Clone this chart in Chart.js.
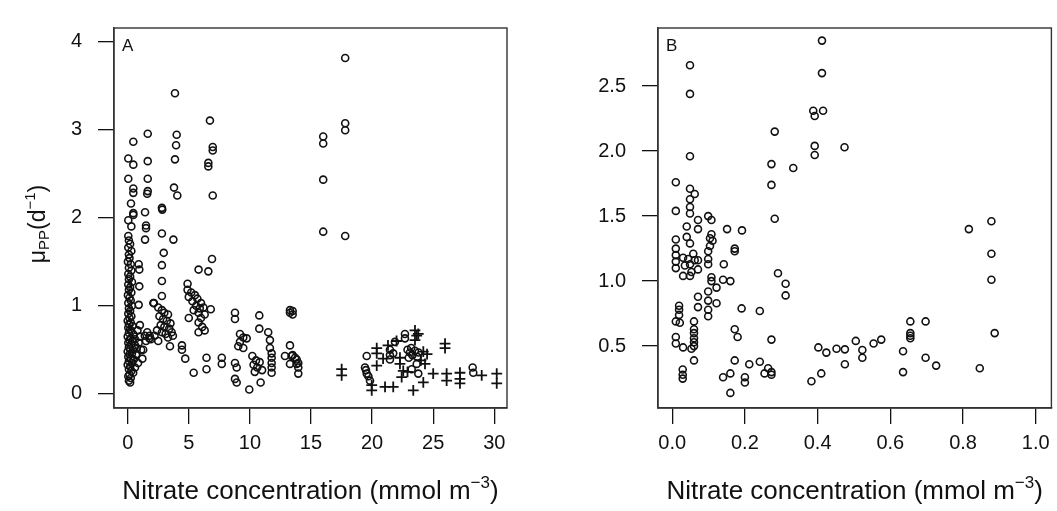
<!DOCTYPE html>
<html>
<head>
<meta charset="utf-8">
<title>Nitrate vs growth rate</title>
<script src="https://cdn.jsdelivr.net/npm/chart.js@4/dist/chart.umd.min.js"></script>
<style>
  html, body { margin: 0; padding: 0; background: #fff; }
  #wrap { position: relative; width: 1057px; height: 511px; }
  .panel { position: absolute; top: 0; height: 511px; }
  #pa { left: 0; width: 530px; }
  #pb { left: 530px; width: 527px; }
</style>
</head>
<body>
<div id="wrap">
  <div class="panel" id="pa"><canvas id="chartA"></canvas></div>
  <div class="panel" id="pb"><canvas id="chartB"></canvas></div>
</div>
<script>
"use strict";

const FONT = "'Liberation Sans', Arial, Helvetica, sans-serif";
const INK = "#111";

// ---- Panel A data ----------------------------------------------------
const aXTicks = [0, 5, 10, 15, 20, 25, 30];
const aYTicks = [0, 1, 2, 3, 4];

const aCircles = [
  // high values
  [17.8, 3.81], [17.8, 3.07], [17.8, 2.99], [16.0, 2.92], [16.0, 2.84], [16.0, 2.43], [16.0, 1.84], [17.8, 1.79],
  [3.87, 3.41], [6.73, 3.10], [1.64, 2.95], [0.46, 2.86], [4.01, 2.94], [3.96, 2.82], [6.96, 2.80], [6.96, 2.76],
  [0.05, 2.67], [0.46, 2.60], [1.64, 2.64], [3.87, 2.66], [6.6, 2.62], [6.6, 2.58], [0.05, 2.44], [1.64, 2.44],
  [0.46, 2.33], [0.46, 2.28], [1.64, 2.30], [1.6, 2.27], [3.79, 2.34], [4.06, 2.25], [6.96, 2.25], [0.27, 2.16],
  [0.46, 2.05], [1.42, 2.06], [2.8, 2.11], [2.83, 2.09], [0.05, 1.97], [0.46, 2.03], [0.3, 1.90], [1.5, 1.91],
  [1.5, 1.88], [1.42, 1.75], [2.8, 1.82], [3.74, 1.75], [0.9, 1.47], [0.95, 1.41], [0.95, 1.22], [0.9, 1.01],
  [2.95, 1.60], [2.8, 1.46], [2.8, 1.28], [2.8, 1.11], [2.15, 1.03], [5.8, 1.41], [6.6, 1.39], [6.9, 1.53],
  [6.8, 0.96], [1.4, 0.66], [1.77, 0.63], [3.46, 0.54], [4.44, 0.55], [4.44, 0.50], [4.71, 0.40], [6.45, 0.41],
  [6.45, 0.28], [5.4, 0.24], [1.27, 0.50], [7.7, 0.41], [7.7, 0.34],
  // dense column near zero nitrate
  [0.05, 1.79], [0.1, 1.74], [0.2, 1.70], [0.05, 1.66], [0.3, 1.62], [0.1, 1.58], [0.15, 1.54], [0.02, 1.50],
  [0.25, 1.47], [0.1, 1.43], [0.3, 1.40], [0.05, 1.36], [0.2, 1.33], [0.1, 1.30], [0.35, 1.27], [0.05, 1.24],
  [0.2, 1.21], [0.1, 1.18], [0.3, 1.15], [0.02, 1.12], [0.15, 1.09], [0.25, 1.06], [0.05, 1.03], [0.35, 1.00],
  [0.1, 0.97], [0.2, 0.94], [0.05, 0.91], [0.3, 0.88], [0.15, 0.86], [0.0, 0.83], [0.25, 0.81], [0.1, 0.79],
  [0.4, 0.77], [0.05, 0.75], [0.2, 0.73], [0.3, 0.71], [0.1, 0.69], [0.5, 0.67], [0.0, 0.65], [0.25, 0.63],
  [0.15, 0.61], [0.4, 0.60], [0.05, 0.58], [0.3, 0.56], [0.6, 0.55], [0.1, 0.53], [0.2, 0.51], [0.45, 0.50],
  [0.0, 0.48], [0.35, 0.46], [0.15, 0.45], [0.7, 0.44], [0.05, 0.42], [0.25, 0.40], [0.5, 0.39], [0.1, 0.37],
  [0.35, 0.35], [0.0, 0.33], [0.2, 0.31], [0.6, 0.30], [0.1, 0.28], [0.3, 0.26], [0.45, 0.24], [0.15, 0.22],
  [0.05, 0.20], [0.25, 0.18], [0.1, 0.15], [0.2, 0.13],
  [0.8, 0.72], [1.0, 0.65], [0.9, 0.58], [1.1, 0.50], [0.7, 0.45], [1.2, 0.40], [0.85, 0.35], [0.6, 0.62],
  [1.0, 0.78], [0.75, 0.52],
  // cluster 1.5 - 3.7
  [2.1, 1.03], [2.5, 0.98], [2.8, 0.95], [3.0, 0.92], [3.3, 0.90], [2.6, 0.88], [2.9, 0.85], [3.2, 0.83],
  [3.5, 0.80], [2.7, 0.78], [3.0, 0.76], [3.4, 0.74], [2.4, 0.72], [2.8, 0.70], [3.1, 0.68], [3.6, 0.70],
  [2.2, 0.66], [1.6, 0.70], [1.8, 0.66], [1.9, 0.62], [1.5, 0.60], [3.3, 0.64], [3.7, 0.66], [2.5, 0.60],
  // cluster 5 - 6.5
  [4.9, 1.25], [4.9, 1.18], [5.2, 1.15], [5.5, 1.12], [5.0, 1.10], [5.7, 1.08], [5.3, 1.05], [6.0, 1.03],
  [5.6, 1.00], [5.9, 0.97], [6.2, 0.98], [5.4, 0.95], [5.8, 0.92], [6.3, 0.90], [5.0, 0.86], [6.0, 0.86],
  [5.8, 0.81], [6.1, 0.76], [5.8, 0.70], [6.3, 0.72],
  // 8 - 14
  [8.78, 0.92], [8.78, 0.85], [10.77, 0.89], [9.19, 0.68], [9.46, 0.64], [9.74, 0.63], [9.19, 0.59], [9.05, 0.54],
  [9.46, 0.52], [10.77, 0.74], [11.5, 0.70], [11.64, 0.61], [11.64, 0.52], [10.2, 0.43], [10.5, 0.38], [10.3, 0.33],
  [10.8, 0.36], [10.6, 0.30], [11.0, 0.27], [10.4, 0.25], [8.78, 0.35], [8.92, 0.30], [8.78, 0.17], [8.92, 0.13],
  [9.95, 0.05], [10.88, 0.13], [11.78, 0.46], [11.78, 0.41], [11.78, 0.35], [11.78, 0.30], [11.78, 0.24],
  [13.28, 0.95], [13.28, 0.92], [13.5, 0.94], [13.5, 0.90], [13.28, 0.55], [12.87, 0.43], [13.42, 0.43],
  [13.28, 0.34], [13.83, 0.39], [13.83, 0.34], [13.7, 0.41], [13.96, 0.35], [13.96, 0.30], [13.96, 0.23], [13.5, 0.44],
  // 19 - 29
  [19.56, 0.43], [19.42, 0.30], [19.5, 0.27], [19.56, 0.23], [19.7, 0.20], [19.83, 0.15], [21.46, 0.50],
  [21.46, 0.44], [21.46, 0.39], [21.87, 0.59], [21.73, 0.46], [22.69, 0.68], [22.69, 0.63], [22.9, 0.50],
  [23.1, 0.47], [23.3, 0.44], [23.5, 0.49], [23.7, 0.42], [23.2, 0.52], [23.8, 0.47], [23.0, 0.41],
  [23.24, 0.28], [23.78, 0.23], [23.65, 0.34], [28.23, 0.30], [28.28, 0.24]
];

const aPluses = [
  [17.51, 0.28], [17.51, 0.21], [20.38, 0.52], [20.38, 0.46], [20.38, 0.32], [19.97, 0.10], [19.97, 0.04],
  [21.06, 0.08], [21.73, 0.08], [23.51, 0.72], [23.65, 0.66], [23.51, 0.61], [23.78, 0.68], [22.28, 0.41],
  [22.28, 0.34], [22.55, 0.26], [22.42, 0.19], [24.19, 0.48], [24.33, 0.34], [24.19, 0.13], [23.37, 0.04],
  [25.0, 0.23], [25.97, 0.57], [25.97, 0.52], [26.1, 0.23], [26.1, 0.15], [27.19, 0.24], [27.19, 0.17],
  [27.19, 0.12], [28.97, 0.21], [30.2, 0.23], [30.2, 0.12], [21.3, 0.55], [22.0, 0.60], [24.5, 0.45],
  [24.0, 0.38], [22.9, 0.25], [20.9, 0.40]
];

// ---- Panel B data ----------------------------------------------------
const bXTicks = [0, 0.2, 0.4, 0.6, 0.8, 1.0];
const bYTicks = [0.5, 1.0, 1.5, 2.0, 2.5];

const bCircles = [
  [0.412, 2.85], [0.412, 2.60], [0.049, 2.66], [0.049, 2.44], [0.388, 2.31], [0.415, 2.31], [0.392, 2.27],
  [0.282, 2.15], [0.392, 2.04], [0.392, 1.97], [0.474, 2.03], [0.049, 1.96], [0.273, 1.90], [0.333, 1.87],
  [0.273, 1.74], [0.01, 1.76], [0.049, 1.71], [0.062, 1.67], [0.049, 1.63], [0.049, 1.57], [0.049, 1.52],
  [0.01, 1.54], [0.099, 1.50], [0.282, 1.48],
  [0.878, 1.46], [0.816, 1.40], [0.878, 1.21], [0.878, 1.01], [0.655, 0.69], [0.697, 0.69], [0.655, 0.60],
  [0.655, 0.58], [0.655, 0.56], [0.887, 0.60], [0.505, 0.54], [0.523, 0.47], [0.523, 0.41], [0.554, 0.52],
  [0.575, 0.55], [0.635, 0.46], [0.635, 0.30], [0.697, 0.41], [0.726, 0.35], [0.846, 0.33],
  [0.291, 1.06], [0.312, 0.98], [0.312, 0.89], [0.273, 0.55], [0.241, 0.77], [0.191, 0.79], [0.172, 0.63],
  [0.18, 0.57], [0.151, 1.40], [0.192, 1.39], [0.172, 1.25], [0.172, 1.23], [0.142, 1.13], [0.14, 1.01],
  [0.16, 1.00], [0.402, 0.49], [0.424, 0.45], [0.452, 0.48], [0.475, 0.475], [0.475, 0.36], [0.41, 0.29],
  [0.383, 0.23], [0.172, 0.39], [0.212, 0.36], [0.241, 0.38], [0.264, 0.33], [0.273, 0.30], [0.273, 0.28],
  [0.254, 0.29], [0.14, 0.26], [0.16, 0.29], [0.2, 0.26], [0.2, 0.22], [0.16, 0.14],
  [0.029, 0.32], [0.029, 0.28], [0.029, 0.25], [0.06, 0.39], [0.03, 0.49], [0.053, 0.48], [0.01, 0.57],
  [0.01, 0.52], [0.06, 0.56], [0.06, 0.53], [0.06, 0.50], [0.01, 0.69], [0.021, 0.68], [0.019, 0.81],
  [0.019, 0.78], [0.019, 0.74], [0.06, 0.69], [0.06, 0.63], [0.06, 0.60], [0.071, 0.88], [0.071, 0.80],
  [0.099, 0.92], [0.099, 0.85], [0.099, 0.78], [0.099, 0.73], [0.122, 0.83], [0.108, 1.00], [0.122, 0.95],
  [0.108, 1.03], [0.01, 1.32], [0.01, 1.25], [0.01, 1.20], [0.01, 1.15], [0.01, 1.10], [0.04, 1.34],
  [0.049, 1.29], [0.03, 1.18], [0.044, 1.17], [0.049, 1.13], [0.035, 1.12], [0.058, 1.21], [0.062, 1.16],
  [0.071, 1.16], [0.071, 1.09], [0.053, 1.07], [0.03, 1.04], [0.049, 1.04], [0.04, 1.42], [0.071, 1.47],
  [0.071, 1.40], [0.108, 1.47], [0.104, 1.33], [0.108, 1.36], [0.111, 1.31], [0.104, 1.27], [0.099, 1.23],
  [0.099, 1.17], [0.099, 1.13]
];

// ---- Text ------------------------------------------------------------
const xTitleMain = "Nitrate concentration (mmol m";
const xTitleSup = "\u22123";
const yTitleMu = "\u03bc";
const yTitleSub = "PP";
const yTitleMain = "(d";
const yTitleSup = "\u22121";

// ---- Helpers ---------------------------------------------------------
const toPoints = list => list.map(([x, y]) => ({ x, y }));

function drawRich(ctx, parts, cx, baseline) {
  let total = 0;
  parts.forEach(p => {
    ctx.font = `${p.size}px ${FONT}`;
    p.w = ctx.measureText(p.text).width;
    total += p.w;
  });
  let x = cx - total / 2;
  ctx.textAlign = "left";
  ctx.textBaseline = "alphabetic";
  parts.forEach(p => {
    ctx.font = `${p.size}px ${FONT}`;
    ctx.fillText(p.text, x, baseline + p.dy);
    x += p.w;
  });
}

const framePlugin = {
  id: "frame",
  afterDraw(chart, args, opts) {
    const { ctx, chartArea: a } = chart;
    ctx.save();
    ctx.strokeStyle = "#333";
    ctx.lineWidth = 1.4;
    ctx.strokeRect(a.left, a.top, a.right - a.left, a.bottom - a.top);

    ctx.fillStyle = INK;
    ctx.font = `17px ${FONT}`;
    ctx.textAlign = "left";
    ctx.textBaseline = "middle";
    ctx.fillText(opts.letter, a.left + 8, a.top + 18);

    drawRich(ctx, [
      { text: xTitleMain, size: 26, dy: 0 },
      { text: xTitleSup, size: 17, dy: -11 },
      { text: ")", size: 26, dy: 0 }
    ], (a.left + a.right) / 2, 499);

    if (opts.yTitle) {
      ctx.translate(opts.yTitleX, (a.top + a.bottom) / 2 + 6);
      ctx.rotate(-Math.PI / 2);
      drawRich(ctx, [
        { text: yTitleMu, size: 23, dy: 0 },
        { text: yTitleSub, size: 15, dy: 4 },
        { text: yTitleMain, size: 23, dy: 0 },
        { text: yTitleSup, size: 15, dy: -10 },
        { text: ")", size: 23, dy: 0 }
      ], 0, 8);
    }
    ctx.restore();
  }
};

function makePanel(canvasId, p) {
  const tickFont = { family: FONT, size: 20 };
  return new Chart(document.getElementById(canvasId), {
    type: "scatter",
    data: { datasets: p.datasets },
    options: {
      responsive: true,
      maintainAspectRatio: false,
      animation: false,
      events: [],
      layout: { padding: { top: 13, right: p.padRight, left: 0, bottom: 0 } },
      plugins: {
        legend: { display: false },
        tooltip: { enabled: false },
        frame: { letter: p.letter, yTitle: p.yTitle, yTitleX: 37 }
      },
      scales: {
        x: {
          type: "linear",
          min: p.xMin, max: p.xMax,
          afterBuildTicks: s => { s.ticks = p.xTicks.map(v => ({ value: v })); },
          afterFit: s => { s.height = 511 - 408; },
          grid: { drawOnChartArea: false, drawTicks: true, tickLength: 16, color: INK, lineWidth: 1.3 },
          border: { display: true, color: "#333", width: 1.4 },
          ticks: { color: INK, font: tickFont, padding: 7, maxRotation: 0, autoSkip: false,
                   callback: v => p.xFmt(v) }
        },
        y: {
          type: "linear",
          min: p.yMin, max: p.yMax,
          afterBuildTicks: s => { s.ticks = p.yTicks.map(v => ({ value: v })); },
          afterFit: s => { s.width = p.left; },
          grid: { drawOnChartArea: false, drawTicks: true, tickLength: 16, color: INK, lineWidth: 1.3 },
          border: { display: true, color: "#333", width: 1.4 },
          ticks: { color: INK, font: tickFont, padding: 16, autoSkip: false,
                   callback: v => p.yFmt(v) }
        }
      }
    },
    plugins: [framePlugin]
  });
}

const circleStyle = {
  pointStyle: "circle", pointRadius: 3.5, borderWidth: 1.6,
  borderColor: INK, backgroundColor: "rgba(0,0,0,0)"
};
const plusStyle = {
  pointStyle: "cross", pointRadius: 5.4, borderWidth: 1.8,
  borderColor: INK, backgroundColor: "rgba(0,0,0,0)"
};

makePanel("chartA", {
  letter: "A", yTitle: true,
  left: 114, padRight: 530 - 507,
  xMin: -1.12, xMax: 31.04, yMin: -0.16, yMax: 4.15,
  xTicks: aXTicks, yTicks: aYTicks,
  xFmt: v => String(v), yFmt: v => String(v),
  datasets: [
    { label: "circles", data: toPoints(aCircles), ...circleStyle },
    { label: "plus", data: toPoints(aPluses), ...plusStyle }
  ]
});

makePanel("chartB", {
  letter: "B", yTitle: false,
  left: 658 - 530, padRight: 527 - (1052 - 530),
  xMin: -0.039, xMax: 1.043, yMin: 0.024, yMax: 2.947,
  xTicks: bXTicks, yTicks: bYTicks,
  xFmt: v => v.toFixed(1), yFmt: v => v.toFixed(1),
  datasets: [
    { label: "circles", data: toPoints(bCircles), ...circleStyle }
  ]
});
</script>
</body>
</html>
